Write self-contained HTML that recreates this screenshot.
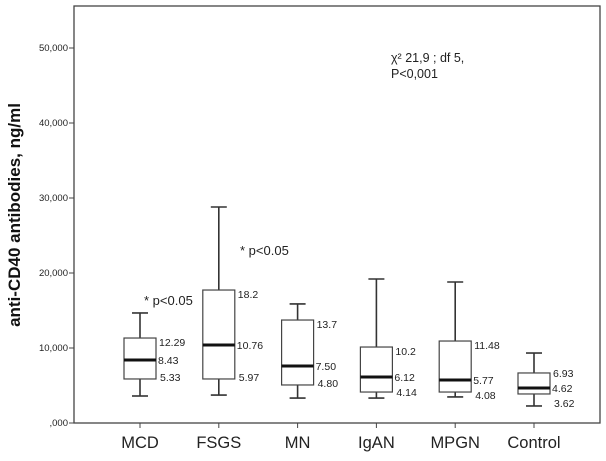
<!DOCTYPE html>
<html><head><meta charset="utf-8"><style>
body{margin:0;background:#fff;}
svg{display:block;font-family:"Liberation Sans",sans-serif;}
</style></head><body>
<svg id="c" width="606" height="461"></svg>
<script>
const categories=["MCD","FSGS","MN","IgAN","MPGN","Control"];
const whiskerLow=[3600,3730,3330,3330,3470,2270];
const q1=[5870,5870,5070,4130,4130,3870];
const median=[8400,10400,7600,6130,5730,4670];
const q3=[11330,17730,13730,10130,10930,6670];
const whiskerHigh=[14670,28800,15870,19200,18800,9330];
const labelQ3=["12.29","18.2","13.7","10.2","11.48","6.93"];
const labelMed=["8.43","10.76","7.50","6.12","5.77","4.62"];
const labelQ1=["5.33","5.97","4.80","4.14","4.08","3.62"];
const yTicks=[0,10000,20000,30000,40000,50000];
const yTickLabels=[",000","10,000","20,000","30,000","40,000","50,000"];

const NS="http://www.w3.org/2000/svg";
const svg=document.getElementById('c');
const L=74,T=6,R=600,B=423;
const y=v=>B-v/10000*75;
const x=i=>140+i*78.8;
function mk(t,a,p){const e=document.createElementNS(NS,t);for(const k in a)e.setAttribute(k,a[k]);(p||svg).appendChild(e);return e;}

const frame=mk('rect',{x:L,y:T,width:R-L,height:B-T,fill:'none',stroke:'#444','stroke-width':1.3});



yTicks.forEach((v,i)=>{
  const tk=mk('line',{x1:L-5,x2:L,y1:y(v),y2:y(v),stroke:'#444'});
  
  
  const t=mk('text',{x:L-6,y:y(v)+3,'text-anchor':'end','font-size':9.5,fill:'#222'});
  t.textContent=yTickLabels[i];
  
  
});

categories.forEach((c,i)=>{
  const cx=x(i),hw=16;
  const g=mk('g',{});
  
  
  mk('line',{x1:cx,x2:cx,y1:y(whiskerHigh[i]),y2:y(q3[i]),stroke:'#333','stroke-width':1.6},g);
  mk('line',{x1:cx,x2:cx,y1:y(q1[i]),y2:y(whiskerLow[i]),stroke:'#333','stroke-width':1.6},g);
  mk('line',{x1:cx-8,x2:cx+8,y1:y(whiskerHigh[i]),y2:y(whiskerHigh[i]),stroke:'#333','stroke-width':1.6},g);
  mk('line',{x1:cx-8,x2:cx+8,y1:y(whiskerLow[i]),y2:y(whiskerLow[i]),stroke:'#333','stroke-width':1.6},g);
  mk('rect',{x:cx-hw,y:y(q3[i]),width:2*hw,height:y(q1[i])-y(q3[i]),fill:'#fff',stroke:'#444','stroke-width':1.2},g);
  mk('line',{x1:cx-hw,x2:cx+hw,y1:y(median[i]),y2:y(median[i]),stroke:'#111','stroke-width':3},g);
  const lx=cx+hw+2;
  const mb=y(median[i])+4;
  const qb3=Math.min(y(q3[i])+8,mb-15);
  const qb1=Math.max(y(q1[i])+2,mb+15);
  const a=mk('text',{x:lx+1,y:qb3,'font-size':10.5,fill:'#222'},g);a.textContent=labelQ3[i];
  const b=mk('text',{x:lx,y:mb,'font-size':10.5,fill:'#222'},g);b.textContent=labelMed[i];
  const d=mk('text',{x:lx+2,y:qb1,'font-size':10.5,fill:'#222'},g);d.textContent=labelQ1[i];
  const tk=mk('line',{x1:cx,x2:cx,y1:B,y2:B+5,stroke:'#444'});
  
  
  const t=mk('text',{x:cx,y:448,'text-anchor':'middle','font-size':16.5,fill:'#222'});
  t.textContent=c;
  
  
});
</script>
<svg style="position:absolute;left:0;top:0" width="606" height="461">
<text x="20" y="215" transform="rotate(-90 20 215)" text-anchor="middle" font-family="Liberation Sans,sans-serif" font-size="17" font-weight="bold" fill="#111">anti-CD40 antibodies, ng/ml</text>
<text x="144" y="305" font-family="Liberation Sans,sans-serif" font-size="13" fill="#222">* p&lt;0.05</text>
<text x="240" y="255" font-family="Liberation Sans,sans-serif" font-size="13" fill="#222">* p&lt;0.05</text>
<text x="391" y="62" font-family="Liberation Sans,sans-serif" font-size="12.5" fill="#222">χ² 21,9 ; df 5,</text>
<text x="391" y="78" font-family="Liberation Sans,sans-serif" font-size="12.5" fill="#222">P&lt;0,001</text>
</svg>
</body></html>
